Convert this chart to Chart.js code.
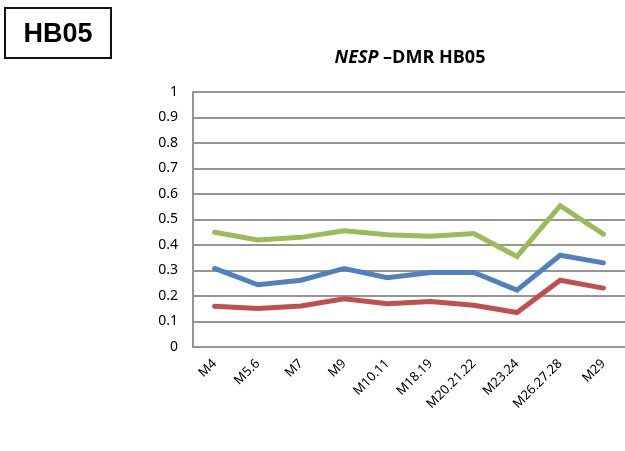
<!DOCTYPE html>
<html>
<head>
<meta charset="utf-8">
<script src="https://cdn.jsdelivr.net/npm/chart.js@4"></script>
<style>
    body { margin: 0; background: #fff; }
    .wrap { position: relative; width: 625px; height: 451px; overflow: hidden; }
    .tag {
        position: absolute; left: 4px; top: 7px; width: 104px; height: 48px;
        border: 2px solid #111; font: bold 27px "Liberation Sans", Arial, sans-serif;
        display: flex; align-items: center; justify-content: center;
    }
    .title {
        position: absolute; left: 260px; width: 300px; top: 44px; text-align: center;
        font: bold 18px "Open Sans", sans-serif; color: #000;
    }
    #chart { position: absolute; left: 0; top: 0; }
</style>
</head>
<body>
<div class="wrap">
    <canvas id="chart" width="625" height="451"></canvas>
    <div class="tag">HB05</div>
    <div class="title"><i>NESP</i> –DMR HB05</div>
</div>
<script>
//============================================= Data =============================================//
const categories = ['M4', 'M5.6', 'M7', 'M9', 'M10.11', 'M18.19', 'M20.21.22', 'M23.24', 'M26.27.28', 'M29'];
const greenValues = [0.45, 0.42, 0.43, 0.456, 0.44, 0.434, 0.445, 0.355, 0.554, 0.443];
const blueValues = [0.308, 0.244, 0.262, 0.308, 0.272, 0.292, 0.292, 0.223, 0.36, 0.33];
const redValues = [0.16, 0.151, 0.161, 0.189, 0.17, 0.178, 0.164, 0.135, 0.262, 0.231];
const yTicks = [0, 0.1, 0.2, 0.3, 0.4, 0.5, 0.6, 0.7, 0.8, 0.9, 1];

//============================================= Line chart =============================================//
const makeLine = (label, data, color) => ({
    label: label,
    data: data,
    borderColor: color,
    backgroundColor: color,
    borderWidth: 5,
    pointRadius: 0,
    tension: 0,
    borderCapStyle: 'round',
    borderJoinStyle: 'miter'
});

const lineConfig = {
    type: 'line',
    data: {
        labels: categories,
        datasets: [
            makeLine('Series 3', greenValues, '#9BBB59'),
            makeLine('Series 1', blueValues, '#4F81BD'),
            makeLine('Series 2', redValues, '#C0504D')
        ]
    },
    options: {
        responsive: false,
        animation: false,
        layout: {
            padding: { top: 92, right: 0, bottom: 0, left: 0 }
        },
        plugins: {
            legend: { display: false },
            tooltip: { enabled: false }
        },
        scales: {
            x: {
                offset: true,
                grid: { display: false, drawTicks: false },
                border: { color: '#969696', width: 2 },
                ticks: {
                    autoSkip: false,
                    maxRotation: 45,
                    minRotation: 45,
                    padding: 9,
                    color: '#000',
                    font: { family: 'Noto Sans', size: 13 }
                },
                afterFit: function (scale) {
                    scale.height = 104;
                    scale.paddingLeft = 0;
                    scale.paddingRight = 0;
                }
            },
            y: {
                min: 0,
                max: 1,
                afterBuildTicks: function (scale) {
                    scale.ticks = yTicks.map(v => ({ value: v }));
                },
                grid: { color: '#969696', lineWidth: 2, drawTicks: false },
                border: { color: '#969696', width: 2 },
                ticks: {
                    padding: 15,
                    color: '#000',
                    font: { family: 'Noto Sans', size: 14 },
                    callback: function (value) {
                        return String(value);
                    }
                },
                afterFit: function (scale) {
                    scale.width = 193;
                    scale.paddingTop = 0;
                    scale.paddingBottom = 0;
                }
            }
        }
    }
};

new Chart(document.getElementById('chart'), lineConfig);
</script>
</body>
</html>
